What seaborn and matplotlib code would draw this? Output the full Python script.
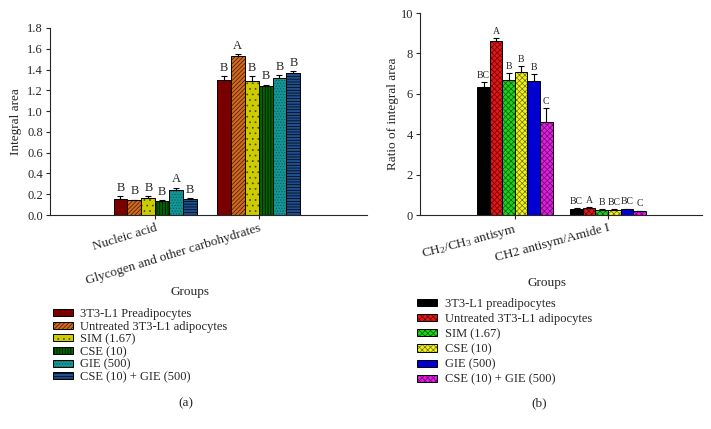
import matplotlib
matplotlib.use("Agg")
import matplotlib.pyplot as plt
import matplotlib.colors as mcolors
from matplotlib.patches import Patch
import seaborn as sns
import pandas as pd

# ---------------- data ----------------
groups_a = ["3T3-L1 Preadipocytes", "Untreated 3T3-L1 adipocytes", "SIM (1.67)",
            "CSE (10)", "GIE (500)", "CSE (10) + GIE (500)"]
cats_a = ["Nucleic acid", "Glycogen and other carbohydrates"]
nucleic_vals = [0.158, 0.141, 0.164, 0.135, 0.241, 0.157]
nucleic_err = [0.025, 0.008, 0.016, 0.006, 0.023, 0.005]
nucleic_letters = ["B", "B", "B", "B", "A", "B"]
glycogen_vals = [1.300, 1.533, 1.292, 1.244, 1.315, 1.363]
glycogen_err = [0.040, 0.016, 0.045, 0.010, 0.032, 0.022]
glycogen_letters = ["B", "A", "B", "B", "B", "B"]
yticks_a = [0.0, 0.2, 0.4, 0.6, 0.8, 1.0, 1.2, 1.4, 1.6, 1.8]

groups_b = ["3T3-L1 preadipocytes", "Untreated 3T3-L1 adipocytes", "SIM (1.67)",
            "CSE (10)", "GIE (500)", "CSE (10) + GIE (500)"]
cats_b = [r"CH$_2$/CH$_3$ antisym", "CH2 antisym/Amide I"]
ch2ch3_vals = [6.33, 8.60, 6.69, 7.06, 6.61, 4.58]
ch2ch3_err = [0.23, 0.14, 0.33, 0.30, 0.35, 0.71]
ch2ch3_letters = ["BC", "A", "B", "B", "B", "C"]
amide_vals = [0.31, 0.37, 0.27, 0.27, 0.30, 0.19]
amide_err = [0.02, 0.02, 0.02, 0.02, 0.02, 0.02]
amide_letters = ["BC", "A", "B", "BC", "BC", "C"]
yticks_b = [0, 2, 4, 6, 8, 10]

# ---------------- style ----------------
colors_a = ["#7a0000", "#d2691e", "#cccc00", "#006400", "#149696", "#1f4f8f"]
hatches_a = [None, "////////", "...", "||||||", "......", "------"]
hatchcol_a = ["black", "#3a1a00", "#4a4a00", "black", "#0a5a5a", "black"]
colors_b = ["#000000", "#e01818", "#22d022", "#f0f020", "#0000d0", "#e020e0"]
hatches_b = [None, "xxxxxx", "xxxxxx", "xxxxxx", None, "xxxxxx"]
hatchcol_b = ["black", "#700000", "#006000", "#707000", "black", "#700070"]

sns.set_style("ticks")
plt.rcParams["font.family"] = ["Liberation Serif", "DejaVu Serif"]
plt.rcParams["mathtext.fontset"] = "custom"
plt.rcParams["mathtext.rm"] = "Liberation Serif"
plt.rcParams["mathtext.it"] = "Liberation Serif:italic"
plt.rcParams["hatch.linewidth"] = 0.5


def set_hcol(p, c):
    if hasattr(p, "set_hatchcolor"):
        p.set_hatchcolor(c)
    else:
        p._hatch_color = mcolors.to_rgba(c)


fig = plt.figure(figsize=(7.11, 4.29), dpi=100)
ax_a = fig.add_axes([50 / 711, 1 - 215 / 429, 317 / 711, 187 / 429])
ax_b = fig.add_axes([420 / 711, 1 - 215 / 429, 282 / 711, 202 / 429])


def draw(ax, groups, cats, vals_list, errs_list, letters_list, colors, hatches,
         hcols, yticks, ylim, xlim, ylabel, letter_size, rot, lpad):
    rows = []
    for c, vals in zip(cats, vals_list):
        for g, v in zip(groups, vals):
            rows.append({"cat": c, "group": g, "val": v})
    df = pd.DataFrame(rows)
    sns.barplot(data=df, x="cat", y="val", hue="group", order=cats,
                hue_order=groups, palette=colors, edgecolor="black",
                linewidth=0.7, errorbar=None, legend=False, ax=ax, width=0.81,
                saturation=1)
    bar_conts = list(ax.containers)
    for i, cont in enumerate(bar_conts):
        for j, bar in enumerate(cont):
            if hatches[i]:
                bar.set_hatch(hatches[i])
                set_hcol(bar, hcols[i])
            xc = bar.get_x() + bar.get_width() / 2
            h = bar.get_height()
            e = errs_list[j][i]
            ax.errorbar(xc, h, yerr=[[0], [e]], fmt="none", ecolor="black",
                        elinewidth=0.8, capsize=2.2, capthick=0.8)
            ax.text(xc, h + e + (ylim[1] * 0.012), letters_list[j][i],
                    ha="center", va="bottom", fontsize=letter_size)
    ax.set_ylim(*ylim)
    ax.set_xlim(*xlim)
    ax.set_yticks(yticks)
    ax.set_xlabel("")
    ax.set_ylabel(ylabel, fontsize=9.5, labelpad=lpad)
    sns.despine(ax=ax)
    ax.tick_params(axis="both", length=3, width=0.8, labelsize=9, pad=2)
    for lab in ax.get_xticklabels():
        lab.set_rotation(rot)
        lab.set_ha("right")
        lab.set_rotation_mode("anchor")
        lab.set_fontsize(9.5)
    for s in ax.spines.values():
        s.set_linewidth(0.8)


draw(ax_a, groups_a, cats_a, [nucleic_vals, glycogen_vals],
     [nucleic_err, glycogen_err], [nucleic_letters, glycogen_letters],
     colors_a, hatches_a, hatchcol_a, yticks_a, (0, 1.8), (-1.02, 2.05),
     "Integral area", 9, 17, 4)
ax_a.set_yticklabels([f"{t:.1f}" for t in yticks_a])

draw(ax_b, groups_b, cats_b, [ch2ch3_vals, amide_vals],
     [ch2ch3_err, amide_err], [ch2ch3_letters, amide_letters],
     colors_b, hatches_b, hatchcol_b, yticks_b, (0, 10), (-1.02, 2.01),
     "Ratio of integral area", 7, 15, 1)

# x labels "Groups"
fig.text(190 / 711, 1 - 292 / 429, "Groups", ha="center", va="center", fontsize=9.5)
fig.text(547 / 711, 1 - 283 / 429, "Groups", ha="center", va="center", fontsize=9.5)


def legend_handles(colors, hatches, hcols):
    hs = []
    for c, h, hc in zip(colors, hatches, hcols):
        p = Patch(facecolor=c, edgecolor="black", hatch=h, linewidth=0.7)
        if h:
            set_hcol(p, hc)
        hs.append(p)
    return hs


leg_a = fig.legend(legend_handles(colors_a, hatches_a, hatchcol_a), groups_a,
                   loc="upper left", bbox_to_anchor=(53 / 711, 1 - 308 / 429),
                   frameon=False, fontsize=9, handlelength=1.6, handleheight=0.5,
                   handletextpad=0.6, labelspacing=0.05, borderaxespad=0,
                   borderpad=0)
leg_b = fig.legend(legend_handles(colors_b, hatches_b, hatchcol_b), groups_b,
                   loc="upper left", bbox_to_anchor=(417 / 711, 1 - 298 / 429),
                   frameon=False, fontsize=9, handlelength=1.6, handleheight=0.5,
                   handletextpad=0.6, labelspacing=0.25, borderaxespad=0,
                   borderpad=0)
for leg, hcs, hts in ((leg_a, hatchcol_a, hatches_a), (leg_b, hatchcol_b, hatches_b)):
    for p, hc, ht in zip(leg.get_patches(), hcs, hts):
        if ht:
            set_hcol(p, hc)

fig.text(186 / 711, 1 - 403 / 429, "(a)", ha="center", va="center", fontsize=9.5)
fig.text(539 / 711, 1 - 403 / 429, "(b)", ha="center", va="center", fontsize=9.5)

fig.savefig("out.png", dpi=100)
